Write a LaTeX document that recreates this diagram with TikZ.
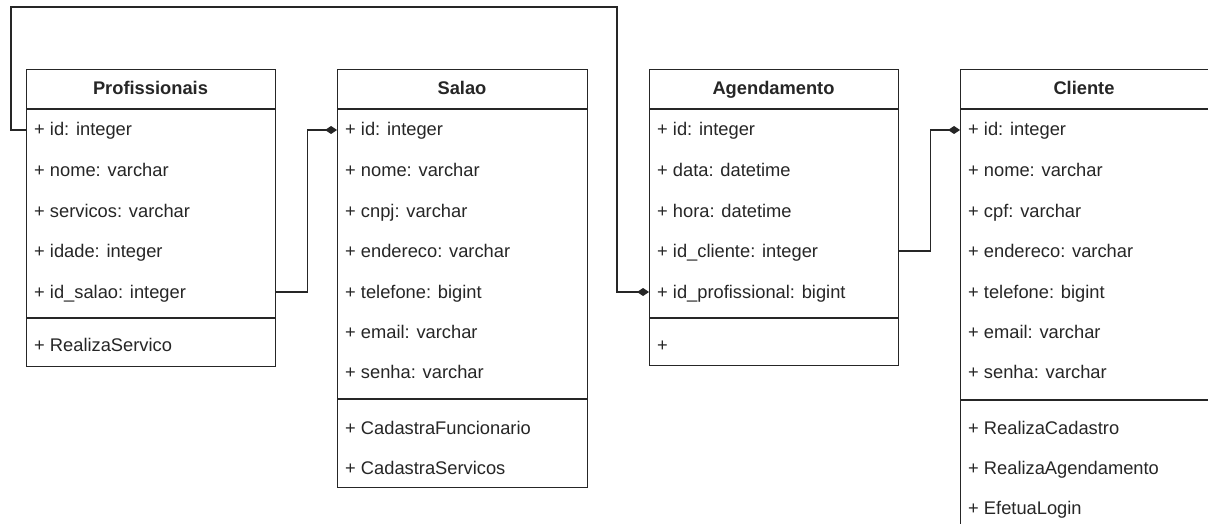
\documentclass[tikz,border=0pt]{standalone}
\usepackage{fontspec}
\setmainfont{Liberation Sans}
\usetikzlibrary{arrows.meta,calc}
\begin{document}
\begin{tikzpicture}[x=1pt,y=-1pt,
  box/.style={draw=black!85,line width=1.4pt,rectangle,inner sep=0pt,anchor=north west},
  sepline/.style={draw=black!85,line width=1.4pt},
  attr/.style={anchor=west,inner sep=0pt,text height=15pt,text depth=3pt,font=\fontsize{18.3}{20}\selectfont,text=black!85},
  ttl/.style={inner sep=0pt,text height=15pt,text depth=3pt,font=\fontsize{18.3}{20}\selectfont\bfseries,text=black!85},
  conn/.style={draw=black!85,line width=1.4pt,-{Diamond[length=12pt,width=8pt]}}]
\useasboundingbox (0,0) rectangle (1208,524);
\clip (0,0) rectangle (1208,524);
\fill[white] (0,0) rectangle (1208,524);

% Profissionais
\node[box,minimum width=249pt,minimum height=297pt] (prof) at (26,69) {};
\draw[sepline] (26,109) -- (275,109);
\draw[sepline] (26,318) -- (275,318);
\node[ttl] (profT) at (150.5,89) {Profissionais};
\node[attr] (p1) at (34,130) {+ id: integer};
\node[attr] (p2) at (34,170) {+ nome: varchar};
\node[attr] (p3) at (34,211) {+ servicos: varchar};
\node[attr] (p4) at (34,251) {+ idade: integer};
\node[attr] (p5) at (34,292) {+ id\_salao: integer};
\node[attr] (pm1) at (34,345) {+ RealizaServico};

% Salao
\node[box,minimum width=250pt,minimum height=418pt] (sal) at (337,69) {};
\draw[sepline] (337,109) -- (587,109);
\draw[sepline] (337,399) -- (587,399);
\node[ttl] (salT) at (462,89) {Salao};
\node[attr] (s1) at (345,130) {+ id: integer};
\node[attr] (s2) at (345,170) {+ nome: varchar};
\node[attr] (s3) at (345,211) {+ cnpj: varchar};
\node[attr] (s4) at (345,251) {+ endereco: varchar};
\node[attr] (s5) at (345,292) {+ telefone: bigint};
\node[attr] (s6) at (345,332) {+ email: varchar};
\node[attr] (s7) at (345,372) {+ senha: varchar};
\node[attr] (sm1) at (345,428) {+ CadastraFuncionario};
\node[attr] (sm2) at (345,468) {+ CadastraServicos};

% Agendamento
\node[box,minimum width=249pt,minimum height=296pt] (ag) at (649,69) {};
\draw[sepline] (649,109) -- (898,109);
\draw[sepline] (649,318) -- (898,318);
\node[ttl] (agT) at (773.5,89) {Agendamento};
\node[attr] (a1) at (657,130) {+ id: integer};
\node[attr] (a2) at (657,170) {+ data: datetime};
\node[attr] (a3) at (657,211) {+ hora: datetime};
\node[attr] (a4) at (657,251) {+ id\_cliente: integer};
\node[attr] (a5) at (657,292) {+ id\_profissional: bigint};
\node[attr] (am1) at (657,345) {+};

% Cliente
\node[box,minimum width=262pt,minimum height=470pt] (cli) at (960,69) {};
\draw[sepline] (960,109) -- (1222,109);
\draw[sepline] (960,400) -- (1222,400);
\node[ttl] (cliT) at (1084,89) {Cliente};
\node[attr] (c1) at (968,130) {+ id: integer};
\node[attr] (c2) at (968,170) {+ nome: varchar};
\node[attr] (c3) at (968,211) {+ cpf: varchar};
\node[attr] (c4) at (968,251) {+ endereco: varchar};
\node[attr] (c5) at (968,292) {+ telefone: bigint};
\node[attr] (c6) at (968,332) {+ email: varchar};
\node[attr] (c7) at (968,372) {+ senha: varchar};
\node[attr] (cm1) at (968,428) {+ RealizaCadastro};
\node[attr] (cm2) at (968,468) {+ RealizaAgendamento};
\node[attr] (cm3) at (968,508) {+ EfetuaLogin};

% Connectors
\coordinate (topR) at (617,7);
\draw[conn] (prof.west |- p1) -- ++(-15,0) |- (topR) |- (ag.west |- a5);
\draw[conn] (prof.east |- p5) -- ++(31,0) |- (sal.west |- s1);
\draw[conn] (ag.east |- a4) -- ++(31,0) |- (cli.west |- c1);
\end{tikzpicture}
\end{document}
